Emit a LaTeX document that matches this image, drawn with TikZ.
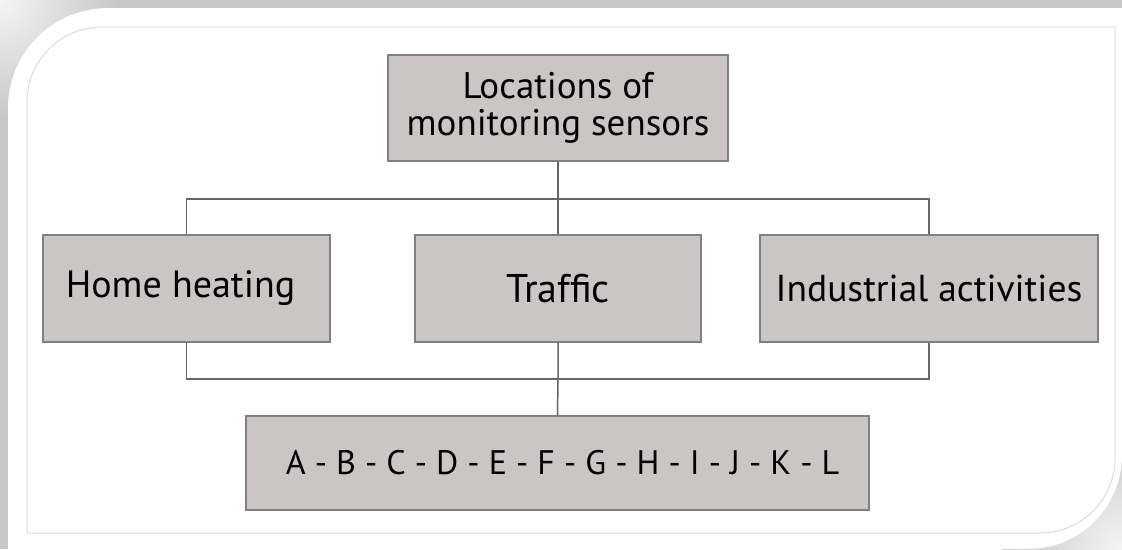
\documentclass[tikz,border=0pt]{standalone}
\usepackage{fontspec}
\setmainfont{PT Sans}
\definecolor{boxfill}{HTML}{CBC6C6}
\definecolor{boxline}{HTML}{808080}
\definecolor{linkline}{HTML}{666666}
\definecolor{shadowgray}{HTML}{C6C6C6}
\definecolor{framegray}{HTML}{DCDCDC}
\tikzset{
  box/.style={draw=boxline, fill=boxfill, line width=1.2pt, inner sep=0pt, align=center},
  link/.style={draw=linkline, line width=1.5pt},
}
\begin{document}
\begin{tikzpicture}[x=1pt,y=-1pt]
    \useasboundingbox (0,0) rectangle (1122,549);
    \fill[shadowgray] (0,0) rectangle (1122,549);
    \shade[inner color=gray!8, outer color=shadowgray] (0,0) circle (120);
    \shade[inner color=gray!8, outer color=shadowgray] (1122,549) circle (120);

    \fill[white] (8,549) -- (8,108) arc[start angle=180, end angle=270, radius=100]
        -- (1122,8) -- (1122,455) arc[start angle=0, end angle=90, radius=94] -- cycle;
    \draw[framegray, line width=1pt] (27,533) -- (27,102) arc[start angle=180, end angle=270, radius=75]
        -- (1115,27) -- (1115,458) arc[start angle=0, end angle=90, radius=75] -- cycle;

    \node[box, minimum width=340pt, minimum height=106pt, font=\fontsize{37}{37}\selectfont] (loc) at (558,108) {Locations of\\monitoring sensors};
    \node[box, minimum width=287pt, minimum height=107pt, font=\fontsize{38}{44}\selectfont] (home) at (186.5,288.5) {Home heating\hspace*{12pt}};
    \node[box, minimum width=286pt, minimum height=107pt, font=\fontsize{40}{46}\selectfont] (traffic) at (558,288.5) {Traffic};
    \node[box, minimum width=338pt, minimum height=107pt, font=\fontsize{37.5}{44}\selectfont] (ind) at (929,288.5) {Industrial activities};
    \node[box, minimum width=623pt, minimum height=94pt, font=\fontsize{34}{40}\selectfont] (letters) at (557.5,463) {\hspace*{10pt}A - B - C - D - E - F - G - H - I - J - K - L};

    \coordinate (tj) at (558,199);
    \coordinate (bj) at (558,379);

    \draw[link] (loc.south) -- (tj) -- (traffic.north);
    \draw[link] (home.north) |- (tj) -| (ind.north);
    \draw[link] (traffic.south) -- (bj) -- (letters.north);
    \draw[link] (home.south) |- (bj) -| (ind.south);
\end{tikzpicture}
\end{document}
